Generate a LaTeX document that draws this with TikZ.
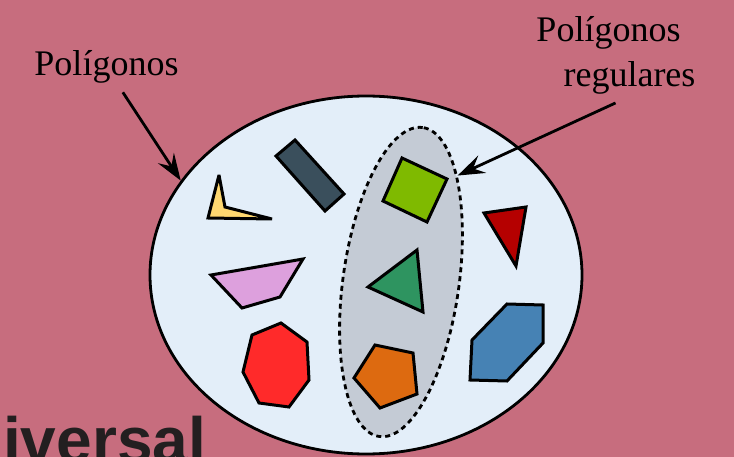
\documentclass[tikz,border=0pt]{standalone}
\usepackage{fontspec}
\setmainfont{Liberation Serif}
\setsansfont{Liberation Sans}
\usepackage{xcolor}
\usetikzlibrary{arrows.meta}
\usetikzlibrary{shapes.geometric}
\usetikzlibrary{calc}
\definecolor{bgrose}{HTML}{C76D7E}
\definecolor{univfill}{HTML}{E3EEF9}
\definecolor{regfill}{HTML}{C4CBD5}
\definecolor{inkdark}{HTML}{231F20}

\begin{document}
\begin{tikzpicture}[x=1pt,y=-1pt]
\tikzstyle{poly}=[draw=black,line width=3pt,miter limit=3]
\tikzstyle{lbl}=[font=\fontsize{36}{40}\selectfont,inner sep=0pt,anchor=base]
\tikzstyle{pointer}=[line width=2.8pt,arrows={-Stealth[length=27pt,width=19pt,inset=10pt]}]
\useasboundingbox (0,0) rectangle (734,457);
\clip (0,0) rectangle (734,457);
\fill[bgrose] (0,0) rectangle (734,457);
\node[ellipse,draw,line width=2.8pt,fill=univfill,minimum width=432pt,minimum height=358pt] (univ) at (366,275) {};
\node[ellipse,draw,line width=2.8pt,dash pattern=on 5pt off 4pt,fill=regfill,minimum width=312pt,minimum height=116pt,rotate=82] (reg) at (401,282) {};
% polygonos
\draw[poly,fill={rgb,255:red,255;green,216;blue,112}] (219,175) -- (225,207) -- (272,219) -- (208,218) -- cycle;
\draw[poly,fill={rgb,255:red,58;green,79;blue,92}] (276,156) -- (295,140) -- (344,194) -- (325,211) -- cycle;
\draw[poly,fill={rgb,255:red,221;green,160;blue,221}] (211,275) -- (303,259) -- (280,297) -- (242,308) -- cycle;
\draw[poly,fill={rgb,255:red,255;green,42;blue,42}] (281,323) -- (307,342) -- (309,380) -- (289,407) -- (259,403) -- (243,372) -- (252,335) -- cycle;
\draw[poly,fill={rgb,255:red,181;green,0;blue,0}] (484,213) -- (526,207) -- (516,266) -- cycle;
\draw[poly,fill={rgb,255:red,70;green,130;blue,180}] (472,340) -- (507,304) -- (543,305) -- (543,343) -- (507,381) -- (470,380) -- cycle;
% regulares
\draw[poly,fill={rgb,255:red,127;green,186;blue,0}] (402,158) -- (447,179) -- (427,222) -- (383,201) -- cycle;
\draw[poly,fill={rgb,255:red,46;green,148;blue,96}] (417,250) -- (423,312) -- (368,287) -- cycle;
\draw[poly,fill={rgb,255:red,221;green,106;blue,16}] (375,345) -- (413,353) -- (417,394) -- (380,408) -- (354,378) -- cycle;
% etiquetas
\node[lbl] (lpoly) at (106.5,76) {Polígonos};
\node[lbl] (rpoly1) at (608.5,42) {Polígonos};
\node[lbl] (rpoly2) at (629.5,87) {regulares};
\node[font=\sffamily\bfseries\fontsize{64}{64}\selectfont,text=inkdark,inner sep=0pt,anchor=base west] (word) at (3,462) {iversal};
\draw[pointer,shorten <=10pt] (lpoly) -- (univ.153);
\draw[pointer] ($(rpoly2.south)+(-14,8)$) -- (reg.-20);
\end{tikzpicture}
\end{document}
